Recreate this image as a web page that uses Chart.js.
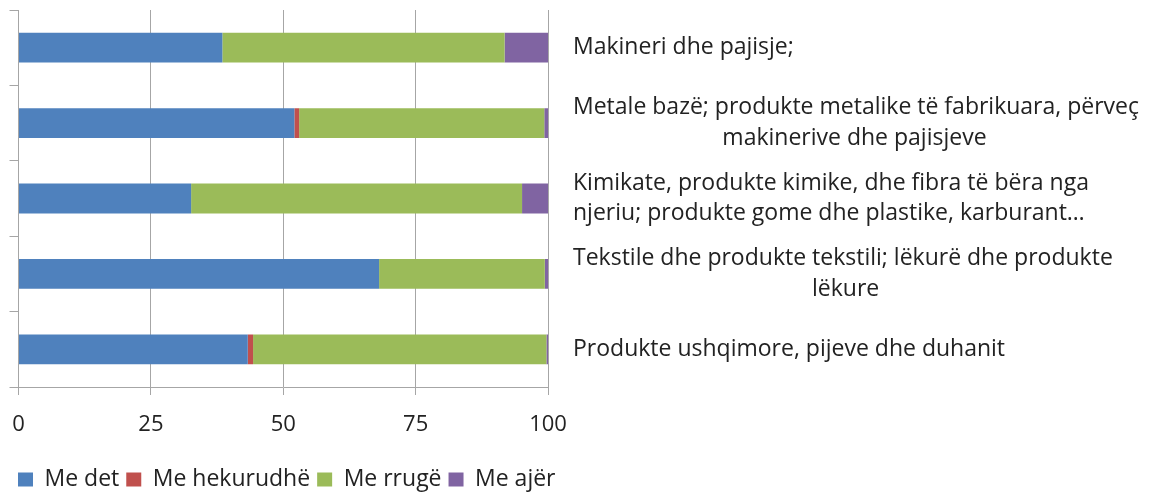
<!DOCTYPE html>
<html>
<head>
<meta charset="utf-8">
<script src="https://cdn.jsdelivr.net/npm/chart.js@4/dist/chart.umd.min.js"></script>
<style>
  html, body { margin: 0; padding: 0; background: #ffffff; }
  #wrap { width: 1159px; height: 495px; position: relative; }
</style>
</head>
<body>
<div id="wrap"><canvas id="c" width="1159" height="495"></canvas></div>
<script>
// ---- data ----
const categories = [
  ["Makineri dhe pajisje;"],
  ["Metale bazë; produkte metalike të fabrikuara, përveç", "makinerive dhe pajisjeve"],
  ["Kimikate, produkte kimike, dhe fibra të bëra nga", "njeriu; produkte gome dhe plastike, karburant…"],
  ["Tekstile dhe produkte tekstili; lëkurë dhe produkte", "lëkure"],
  ["Produkte ushqimore, pijeve dhe duhanit"]
];
const seriesNames = ["Me det", "Me hekurudhë", "Me rrugë", "Me ajër"];
const meDet        = [38.5, 52.1, 32.6, 68.1, 43.3];
const meHekurudhe  = [0.0, 0.9, 0.0, 0.0, 1.0];
const meRruge      = [53.3, 46.3, 62.5, 31.3, 55.4];
const meAjer       = [8.2, 0.7, 4.9, 0.6, 0.3];
const xTicks       = [0, 25, 50, 75, 100];

const colors = ["#4F81BD", "#C0504D", "#9BBB59", "#8064A2"];
const FONT = "'Open Sans', 'Noto Sans', sans-serif";
const FS = 23;
const gridColor = "#a6a6a6";
const textColor = "#222222";

// center lines of multi-line labels by padding with spaces (block stays left aligned)
const mctx = document.createElement('canvas').getContext('2d');
mctx.font = FS + "px " + FONT;
function centerLines(lines) {
  if (lines.length < 2) return lines;
  const widths = lines.map(l => mctx.measureText(l).width);
  const W = Math.max(...widths);
  const sp = mctx.measureText(' ').width;
  return lines.map((l, i) => ' '.repeat(Math.max(0, Math.round((W - widths[i]) / 2 / sp))) + l);
}

const allSeries = [meDet, meHekurudhe, meRruge, meAjer];
const datasets = allSeries.map((vals, i) => ({
  label: seriesNames[i],
  data: vals,
  backgroundColor: colors[i],
  borderWidth: 0,
  barPercentage: 0.395,
  categoryPercentage: 1.0,
  yAxisID: 'y'
}));

Chart.defaults.font.family = FONT;
Chart.defaults.color = textColor;

document.fonts.load(FS + "px 'Open Sans'").then(draw, draw);

function draw() {
mctx.font = FS + "px " + FONT;
new Chart(document.getElementById('c'), {
  type: 'bar',
  data: { labels: categories, datasets: datasets },
  options: {
    indexAxis: 'y',
    responsive: false,
    animation: false,
    layout: { padding: { left: 11, top: 10, right: 0, bottom: -6 } },
    plugins: {
      legend: {
        position: 'bottom',
        align: 'start',
        labels: {
          boxWidth: 15, boxHeight: 14, padding: 7,
          font: { size: FS }, color: textColor
        }
      },
      tooltip: { enabled: false }
    },
    scales: {
      x: {
        stacked: true,
        min: 0, max: 100,
        afterBuildTicks: (s) => { s.ticks = xTicks.map(v => ({ value: v })); },
        ticks: { font: { size: 22 }, color: textColor, padding: 17, maxRotation: 0 },
        grid: { color: gridColor, tickLength: 8, lineWidth: 1 },
        border: { color: gridColor },
        afterFit: (s) => { s.height = 74; s.paddingLeft = 0; s.paddingRight = 0; }
      },
      y: {
        stacked: true,
        position: 'left',
        offset: true,
        ticks: { callback: () => '' , padding: 0},
        grid: { display: true, drawOnChartArea: false, offset: true, color: gridColor, tickLength: 9 },
        border: { display: true, color: gridColor },
        afterFit: (s) => { s.width = 7.5; s.paddingTop = 0; s.paddingBottom = 0; }
      },
      y2: {
        type: 'category',
        position: 'right',
        offset: true,
        grid: { display: false, drawTicks: false },
        border: { display: false },
        ticks: {
          crossAlign: 'near',
          padding: 25,
          font: { size: FS, lineHeight: 1.33 },
          color: textColor,
          callback: function(v, i) { return centerLines(categories[i]); }
        },
        afterFit: (s) => { s.width = 611; s.paddingTop = 0; s.paddingBottom = 0; }
      }
    }
  }
});
}
</script>
</body>
</html>
